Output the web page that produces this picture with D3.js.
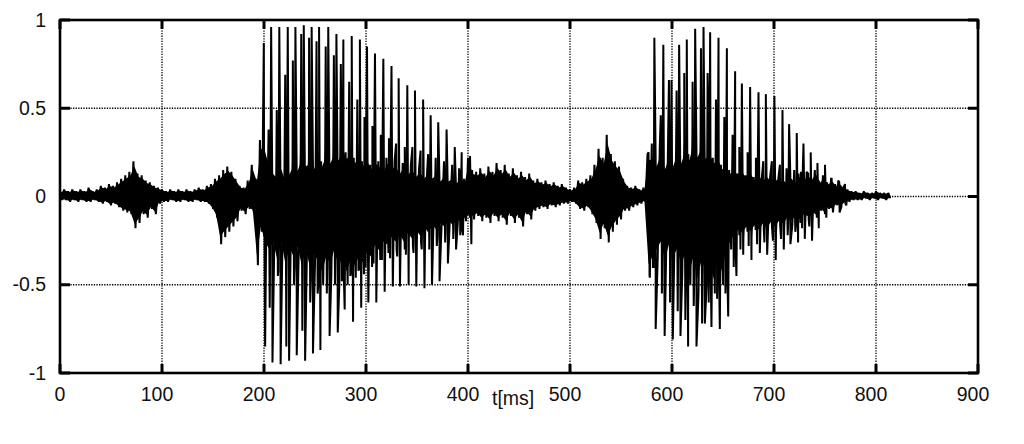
<!DOCTYPE html>
<html><head><meta charset="utf-8">
<script src="https://cdn.jsdelivr.net/npm/d3@7"></script>
<style>
html,body{margin:0;padding:0;background:#fff;}
svg{display:block;}
text{font-family:"Liberation Sans",Arial,sans-serif;fill:#111;}
</style></head><body>
<svg id="c" width="1024" height="444"></svg>
<script>
// ---------- data ----------
const xTicks = [0,100,200,300,400,500,600,700,800,900];
const xTickLabels = ["0","100","200","300","400","500","600","700","800","900"];
const yTicks = [-1,-0.5,0,0.5,1];
const yTickLabels = ["-1","-0.5","0","0.5","1"];
const xLabel = "t[ms]";

// dense body of the waveform: max / min per 4 ms bin, in hundredths
const bodyStepMs = 4;
const bodyUpper = [
 3,4,3,4,3,4,3,5,3,4,
 6,5,7,6,8,10,12,14,20,13,
 12,9,8,6,5,4,3,4,3,4,
 3,4,3,4,5,4,6,7,10,12,
 15,17,14,10,6,5,9,18,10,32,
 30,20,15,12,18,10,15,20,17,25,
 20,22,18,25,20,27,22,28,24,30,
 25,28,22,26,20,24,18,22,20,16,
 22,18,20,15,19,14,18,13,16,12,
 15,12,14,10,13,10,12,9,11,10,
 22,15,14,16,13,17,14,19,15,18,
 13,16,12,14,11,13,9,10,8,9,
 7,8,6,7,5,4,5,9,8,10,
 12,18,27,22,35,24,20,17,10,6,
 5,6,4,5,24,25,20,28,18,25,
 20,27,22,30,24,35,26,32,25,28,
 22,25,18,20,15,18,13,16,12,15,
 11,14,10,13,10,12,9,11,8,12,
 9,13,10,14,11,15,9,12,8,10,
 7,8,5,4,3,3,2,3,2,2,
 3,2,2,2
];
const bodyLower = [
 -2,-2,-3,-2,-3,-2,-3,-3,-2,-3,
 -4,-3,-5,-4,-6,-8,-9,-10,-18,-15,
 -10,-12,-7,-10,-4,-3,-3,-2,-3,-3,
 -2,-3,-3,-2,-3,-3,-4,-7,-12,-27,
 -23,-20,-17,-14,-8,-10,-7,-9,-39,-20,
 -30,-35,-30,-42,-30,-45,-34,-40,-33,-46,
 -35,-47,-38,-43,-50,-40,-45,-35,-47,-40,
 -50,-42,-46,-40,-44,-37,-40,-32,-36,-30,
 -32,-27,-30,-25,-30,-24,-28,-22,-26,-20,
 -24,-19,-22,-18,-20,-16,-19,-15,-17,-14,
 -12,-13,-11,-14,-12,-15,-11,-14,-12,-16,
 -11,-15,-12,-17,-10,-13,-8,-7,-6,-7,
 -5,-6,-5,-4,-4,-3,-4,-7,-8,-6,
 -10,-15,-24,-18,-26,-20,-16,-13,-8,-8,
 -6,-5,-4,-3,-45,-40,-35,-30,-42,-32,
 -40,-35,-45,-38,-50,-40,-55,-42,-50,-45,
 -55,-40,-50,-35,-30,-25,-22,-24,-20,-23,
 -19,-22,-18,-21,-17,-20,-16,-18,-14,-16,
 -13,-15,-12,-13,-10,-12,-8,-10,-7,-8,
 -5,-6,-4,-3,-2,-2,-2,-1,-2,-1,
 -2,-1,-2,-1
];

// main pitch pulses (ms, peak, trough in hundredths)
const pitchTimes = [
 199.8,207,215,223.3,230.8,239,246.7,254,263,271,277.8,286,294,301,308.8,317,325,332,340.5,348,356,363.4,370.8,379,387,393.8,402,
 577,582.7,591.5,599.5,607,614.5,622.7,630.9,637.4,645.6,653.8,661.9,668.5,676.6,684.8,692,700.4,708.3,714.8,722.3,728.9,736,742.6,750,756.5,763,769.6
];
const pitchHigh = [
 87,96,96,96,96,97,96,96,96,92,89,91,89,85,81,78,74,67,63,60,55,46,42,38,28,25,23,
 25,90,86,66,86,89,95,96,93,90,84,71,64,62,59,58,57,49,41,36,30,25,19,18,10,9,7
];
const pitchLow = [
 -85,-94,-95,-93,-90,-93,-89,-87,-79,-77,-64,-71,-63,-60,-60,-54,-51,-51,-50,-51,-52,-50,-48,-38,-30,-22,-27,
 -46,-75,-79,-81,-79,-85,-85,-72,-74,-75,-68,-45,-33,-36,-32,-33,-36,-30,-27,-26,-24,-25,-18,-12,-9,-9,-5
];

// secondary peaks inside each pitch period
const subTimes = [
 204.5,212.5,220.8,228.3,236.5,244.2,251.5,260.5,268.5,275.3,283.5,291.5,298.5,306.3,314.5,322.5,329.5,338,345.5,353.5,360.9,368.3,376.5,384.5,391.3,
 580.2,589,597,604.5,612,620.2,628.4,634.9,643.1,651.3,659.4,666,674.1,682.3,689.5,697.9,705.8,712.3,719.8,726.4,733.5
];
const subHigh = [
 38,49,69,77,92,90,88,85,80,75,65,55,45,40,35,33,30,28,28,26,24,22,20,18,16,
 30,46,66,60,70,65,84,70,55,45,35,28,25,22,20,20,18,16,15,14,13
];
const subLow = [
 -63,-45,-85,-50,-76,-60,-55,-55,-50,-48,-45,-42,-40,-38,-36,-35,-34,-33,-32,-30,-30,-28,-26,-24,-22,
 -40,-55,-60,-65,-70,-62,-72,-60,-58,-55,-40,-30,-28,-27,-26,-25,-24,-22,-20,-18,-17
];

// ---------- drawing ----------
const svg = d3.select("#c");
const L = 60, R = 978, T = 20, B = 373;
const x = d3.scaleLinear().domain([0, 900]).range([L, R]);
const y = d3.scaleLinear().domain([-1, 1]).range([B, T]);

svg.append("defs").append("clipPath").attr("id","plot")
  .append("rect").attr("x",L).attr("y",T).attr("width",R-L).attr("height",B-T);

// grid
const grid = svg.append("g");
grid.selectAll("line.v").data(xTicks.filter(d => d > 0 && d < 900)).join("line")
  .attr("x1", d => x(d)).attr("x2", d => x(d)).attr("y1", T).attr("y2", B)
  .attr("stroke", "#000").attr("stroke-width", 1.3).attr("stroke-dasharray", "1.3,1.3");
grid.selectAll("line.h").data(yTicks.filter(d => d > -1 && d < 1)).join("line")
  .attr("y1", d => y(d)).attr("y2", d => y(d)).attr("x1", L).attr("x2", R)
  .attr("stroke", "#000").attr("stroke-width", 1.3).attr("stroke-dasharray", "1.3,1.3");

const plot = svg.append("g").attr("clip-path","url(#plot)");

// filled min/max envelope of the dense body
const bins = bodyUpper.map((u, i) => ({ t: i * bodyStepMs, u: u / 100, l: bodyLower[i] / 100 }));
plot.append("path")
  .attr("d", d3.area().x(d => x(d.t + 1)).y0(d => y(d.l * 0.85)).y1(d => y(d.u * 0.85))(bins))
  .attr("fill", "#000");

// waveform points
const pts = [];
bins.forEach(b => {
  pts.push([b.t, b.u]);
  pts.push([b.t + bodyStepMs / 2, b.l]);
});
pitchTimes.forEach((t, i) => { pts.push([t, pitchHigh[i] / 100]); pts.push([t + 1.3, pitchLow[i] / 100]); });
subTimes.forEach((t, i) => { pts.push([t, subHigh[i] / 100]); pts.push([t + 1.1, subLow[i] / 100]); });
pts.sort((a, b) => a[0] - b[0]);

const line = d3.line().x(d => x(d[0])).y(d => y(d[1]));
plot.append("path")
  .attr("d", line(pts)).attr("fill", "none").attr("stroke", "#000")
  .attr("stroke-width", 2).attr("stroke-linejoin", "miter").attr("stroke-miterlimit", 2);

// frame
svg.append("rect").attr("x", L).attr("y", T).attr("width", R - L).attr("height", B - T)
  .attr("fill", "none").attr("stroke", "#000").attr("stroke-width", 2.6);

// inward ticks on all four sides
const tk = svg.append("g").attr("stroke", "#000").attr("stroke-width", 3);
xTicks.forEach(d => {
  tk.append("line").attr("x1", x(d)).attr("x2", x(d)).attr("y1", B).attr("y2", B - 9);
  tk.append("line").attr("x1", x(d)).attr("x2", x(d)).attr("y1", T).attr("y2", T + 9);
});
yTicks.forEach(d => {
  tk.append("line").attr("x1", L).attr("x2", L + 10).attr("y1", y(d)).attr("y2", y(d));
  tk.append("line").attr("x1", R).attr("x2", R - 10).attr("y1", y(d)).attr("y2", y(d));
});

// tick labels
svg.append("g").selectAll("text").data(xTicks).join("text")
  .attr("x", (d, i) => x(d) - (xTickLabels[i].length > 1 ? 5 : 0))
  .attr("y", 401).attr("text-anchor", "middle").attr("font-size", 19.5)
  .text((d, i) => xTickLabels[i]);
svg.append("g").selectAll("text").data(yTicks).join("text")
  .attr("x", 46).attr("y", d => y(d) + 6.5).attr("text-anchor", "end").attr("font-size", 19.5)
  .text((d, i) => yTickLabels[i]);

svg.append("text").attr("x", 492).attr("y", 405).attr("font-size", 19.5).text(xLabel);
</script>
</body></html>
